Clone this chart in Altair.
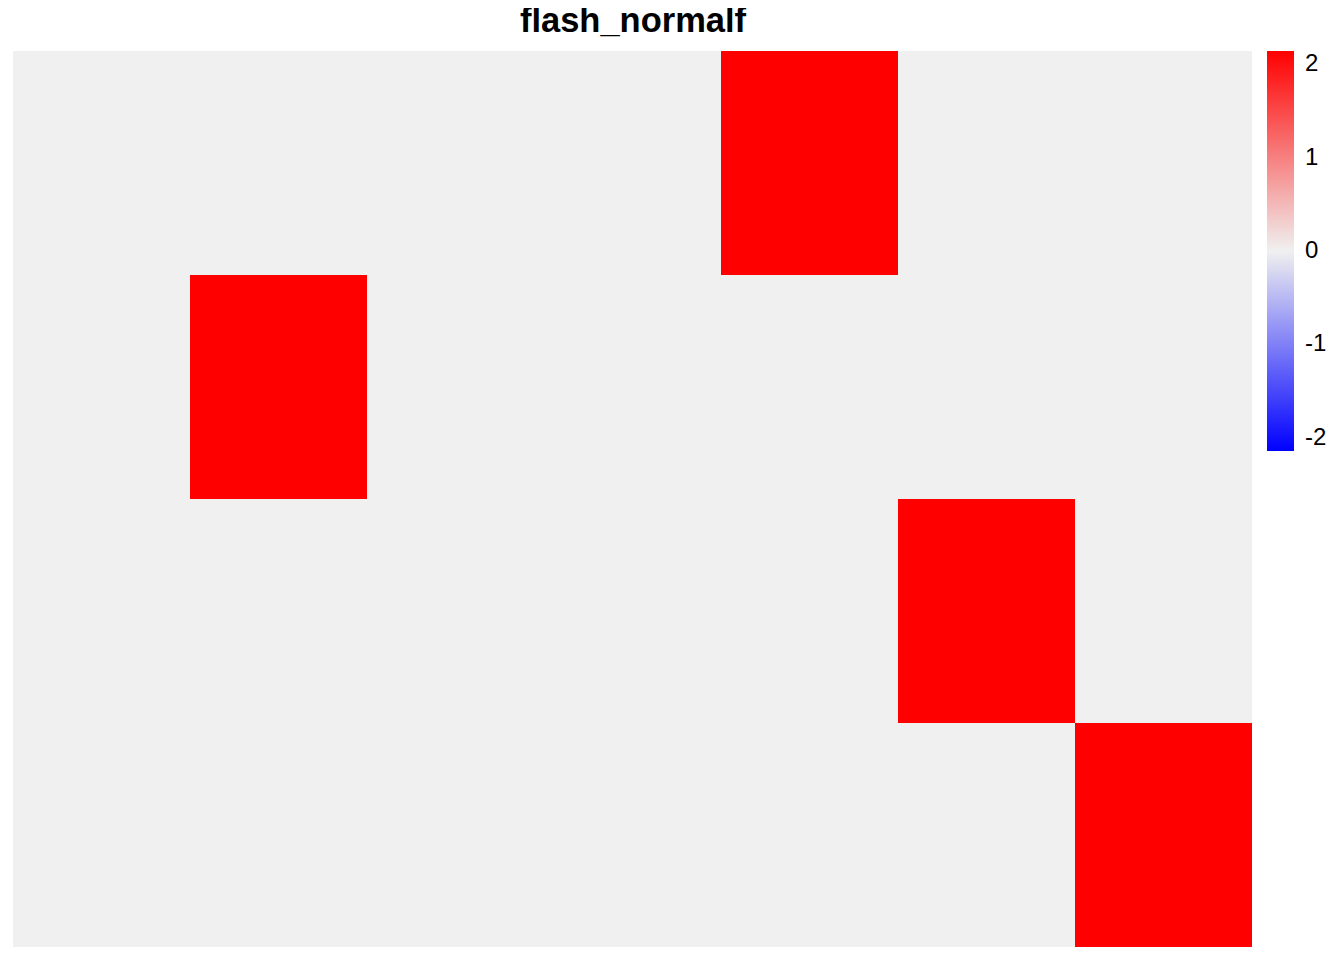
import altair as alt
import pandas as pd

chart_title = ["flash_normalf"]
rows = ["r1", "r2", "r3", "r4"]
cols = ["c1", "c2", "c3", "c4", "c5", "c6", "c7"]
values = [
    [0, 0, 0, 0, 2.14, 0, 0],
    [0, 2.14, 0, 0, 0, 0, 0],
    [0, 0, 0, 0, 0, 2.14, 0],
    [0, 0, 0, 0, 0, 0, 2.14],
]
legend_ticks = [-2, -1, 0, 1, 2]
lim = 2.14

records = []
for i, r in enumerate(rows):
    for j, c in enumerate(cols):
        records.append({"row": r, "col": c, "value": values[i][j]})
df = pd.DataFrame(records)

scale = alt.Scale(domain=[-lim, 0, lim], range=["#0000FF", "#F0F0F0", "#FF0000"], interpolate="rgb")

heat = alt.Chart(df).mark_rect().encode(
    x=alt.X("col:N", sort=cols, axis=None, scale=alt.Scale(paddingInner=0, paddingOuter=0)),
    y=alt.Y("row:N", sort=rows, axis=None, scale=alt.Scale(paddingInner=0, paddingOuter=0)),
    color=alt.Color(
        "value:Q",
        scale=scale,
        legend=alt.Legend(
            type="gradient",
            title=None,
            orient="none",
            legendX=1254,
            legendY=0,
            padding=0,
            gradientLength=400,
            gradientThickness=27,
            gradientStrokeWidth=0,
            values=legend_ticks,
            labelFontSize=24,
            labelFont="Liberation Sans",
            labelColor="black",
            labelOffset=11,
            labelOverlap=False,
            labelExpr="toString(datum.value)",
        ),
    ),
)

title_df = pd.DataFrame({"t": chart_title})
title = alt.Chart(title_df).mark_text(
    font="Liberation Sans",
    fontSize=34.5,
    fontWeight="bold",
    color="black",
    align="center",
    baseline="alphabetic",
).encode(
    text="t:N",
    x=alt.value(620),
    y=alt.value(-19),
)

chart = alt.layer(heat, title).properties(
    width=1239,
    height=896,
    autosize=alt.AutoSizeParams(type="none"),
    padding={"left": 5, "top": 43, "right": 84, "bottom": 5},
).configure_view(stroke=None)

chart.save("out.html", embed_options={"renderer": "svg", "actions": False})
